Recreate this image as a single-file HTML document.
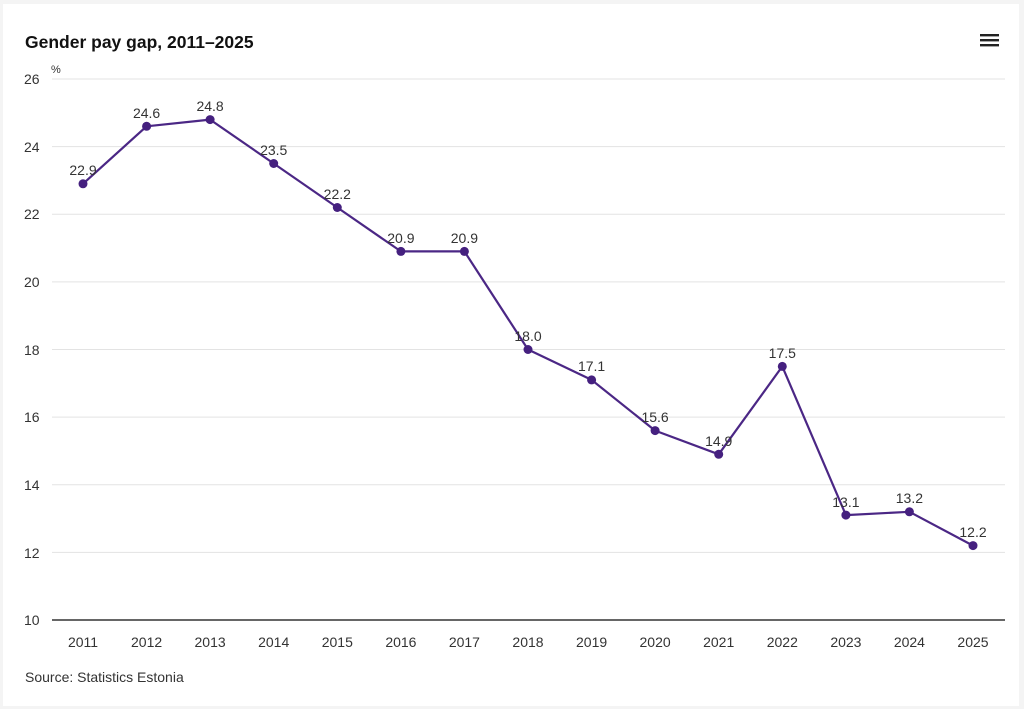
<!DOCTYPE html>
<html><head><meta charset="utf-8"><style>
html,body{margin:0;padding:0;background:#f4f4f4;}
svg{display:block;font-family:"Liberation Sans",sans-serif;}
</style></head><body>
<svg width="1024" height="709" viewBox="0 0 1024 709" xmlns="http://www.w3.org/2000/svg">
<rect x="3" y="4" width="1016" height="702" fill="#ffffff"/>
<text x="25" y="48" font-size="17.5" font-weight="bold" fill="#111">Gender pay gap, 2011–2025</text>
<g fill="#222"><rect x="980" y="34" width="19" height="2.4"/><rect x="980" y="39" width="19" height="2.4"/><rect x="980" y="44" width="19" height="2.4"/></g>
<text x="51" y="73" font-size="11" fill="#333">%</text>
<g stroke="#e3e3e3" stroke-width="1">
<line x1="52" x2="1005" y1="79" y2="79"/><line x1="52" x2="1005" y1="146.6" y2="146.6"/>
<line x1="52" x2="1005" y1="214.2" y2="214.2"/><line x1="52" x2="1005" y1="281.9" y2="281.9"/>
<line x1="52" x2="1005" y1="349.5" y2="349.5"/><line x1="52" x2="1005" y1="417.1" y2="417.1"/>
<line x1="52" x2="1005" y1="484.7" y2="484.7"/><line x1="52" x2="1005" y1="552.4" y2="552.4"/>
</g>
<line x1="52" x2="1005" y1="620" y2="620" stroke="#666" stroke-width="2"/>
<g font-size="14" fill="#333" text-anchor="start">
<text x="24" y="84">26</text><text x="24" y="152">24</text><text x="24" y="219">22</text>
<text x="24" y="287">20</text><text x="24" y="355">18</text><text x="24" y="422">16</text>
<text x="24" y="490">14</text><text x="24" y="558">12</text><text x="24" y="625">10</text>
</g>
<g font-size="14" fill="#333" text-anchor="middle">
<text x="83" y="647">2011</text><text x="146.6" y="647">2012</text><text x="210.1" y="647">2013</text>
<text x="273.7" y="647">2014</text><text x="337.3" y="647">2015</text><text x="400.9" y="647">2016</text>
<text x="464.4" y="647">2017</text><text x="528" y="647">2018</text><text x="591.6" y="647">2019</text>
<text x="655.1" y="647">2020</text><text x="718.7" y="647">2021</text><text x="782.3" y="647">2022</text>
<text x="845.9" y="647">2023</text><text x="909.4" y="647">2024</text><text x="973" y="647">2025</text>
</g>
<polyline fill="none" stroke="#4b2785" stroke-width="2.2" stroke-linejoin="round" points="83,183.8 146.6,126.3 210.1,119.6 273.7,163.5 337.3,207.5 400.9,251.4 464.4,251.4 528,349.5 591.6,379.9 655.1,430.6 718.7,454.3 782.3,366.4 845.9,515.1 909.4,511.8 973,545.6"/>
<g fill="#45207f">
<circle cx="83" cy="183.8" r="4.5"/><circle cx="146.6" cy="126.3" r="4.5"/><circle cx="210.1" cy="119.6" r="4.5"/>
<circle cx="273.7" cy="163.5" r="4.5"/><circle cx="337.3" cy="207.5" r="4.5"/><circle cx="400.9" cy="251.4" r="4.5"/>
<circle cx="464.4" cy="251.4" r="4.5"/><circle cx="528" cy="349.5" r="4.5"/><circle cx="591.6" cy="379.9" r="4.5"/>
<circle cx="655.1" cy="430.6" r="4.5"/><circle cx="718.7" cy="454.3" r="4.5"/><circle cx="782.3" cy="366.4" r="4.5"/>
<circle cx="845.9" cy="515.1" r="4.5"/><circle cx="909.4" cy="511.8" r="4.5"/><circle cx="973" cy="545.6" r="4.5"/>
</g>
<g font-size="14" fill="#333" text-anchor="middle">
<text x="83" y="175">22.9</text><text x="146.6" y="118">24.6</text><text x="210.1" y="111">24.8</text>
<text x="273.7" y="155">23.5</text><text x="337.3" y="199">22.2</text><text x="400.9" y="243">20.9</text>
<text x="464.4" y="243">20.9</text><text x="528" y="341">18.0</text><text x="591.6" y="371">17.1</text>
<text x="655.1" y="422">15.6</text><text x="718.7" y="446">14.9</text><text x="782.3" y="358">17.5</text>
<text x="845.9" y="507">13.1</text><text x="909.4" y="503">13.2</text><text x="973" y="537">12.2</text>
</g>
<text x="25" y="682" font-size="14" fill="#333">Source: Statistics Estonia</text>
</svg>
</body></html>
